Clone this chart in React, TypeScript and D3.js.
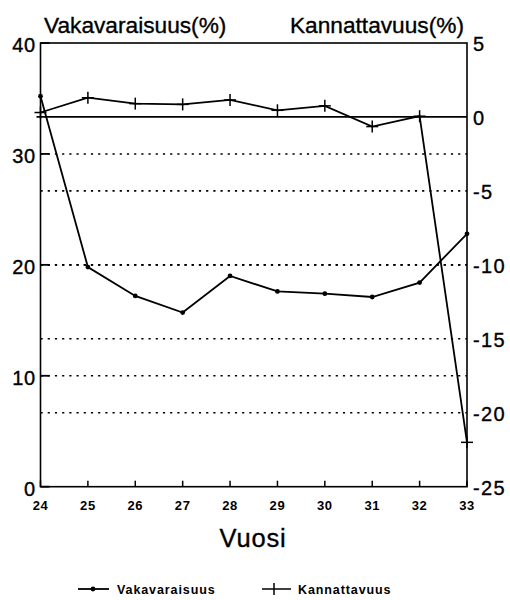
import React from "react";
import * as d3 from "d3";

// Years on the x axis
const years = [24, 25, 26, 27, 28, 29, 30, 31, 32, 33];
// Solvency ratio (%), left axis
const vakavaraisuus = [35.2, 19.8, 17.2, 15.7, 19.0, 17.6, 17.4, 17.1, 18.4, 22.8];
// Profitability (%), right axis
const kannattavuus = [0.3, 1.3, 0.9, 0.85, 1.15, 0.45, 0.75, -0.65, 0.05, -22.0];

const leftTicks = [0, 10, 20, 30, 40];
const rightTicks = [5, 0, -5, -10, -15, -20, -25];

const W = 510;
const H = 600;
const left = 40.5;
const right = 467;
const top = 43;
const bottom = 486.7;

const FONT = "'Liberation Sans', Arial, sans-serif";
// a thin outline gives the type a slightly heavier weight
const heavy = { stroke: "#000", strokeWidth: 0.35 };

export default function App() {
  const x = d3.scaleLinear().domain([24, 33]).range([left, right]);
  const yL = d3.scaleLinear().domain([0, 40]).range([bottom, top]);
  const yR = d3.scaleLinear().domain([-25, 5]).range([bottom, top]);

  const lineL = d3
    .line<number>()
    .x((_, i) => x(years[i]))
    .y((d) => yL(d));
  const lineR = d3
    .line<number>()
    .x((_, i) => x(years[i]))
    .y((d) => yR(d));

  const dotted = [
    ...leftTicks.filter((t) => t > 0 && t < 40).map((t) => yL(t)),
    ...rightTicks.filter((t) => t < 0 && t > -25).map((t) => yR(t)),
  ];

  return (
    <svg
      width={W}
      height={H}
      style={{ position: "absolute", left: 0, top: 0, background: "#fff" }}
      fontFamily={FONT}
    >
      {/* dotted gridlines */}
      {dotted.map((y, i) => (
        <line
          key={"g" + i}
          x1={left}
          x2={right}
          y1={y}
          y2={y}
          stroke="#000"
          strokeWidth={1.6}
          strokeDasharray="2.2,5"
        />
      ))}
      {/* zero line of the right axis */}
      <line x1={left - 4} x2={right} y1={yR(0)} y2={yR(0)} stroke="#000" strokeWidth={1.8} />

      {/* frame */}
      <rect
        x={left}
        y={top}
        width={right - left}
        height={bottom - top}
        fill="none"
        stroke="#000"
        strokeWidth={1.6}
      />

      {/* left ticks */}
      {leftTicks.map((t) => (
        <g key={"l" + t}>
          <line x1={left} x2={left + 9} y1={yL(t)} y2={yL(t)} stroke="#000" strokeWidth={1.8} />
          <text
            x={36}
            y={yL(t) + 9}
            textAnchor="end"
            fontSize={20}
            letterSpacing={0.8}
            fill="#000"
            {...heavy}
          >
            {t}
          </text>
        </g>
      ))}

      {/* right tick labels */}
      {rightTicks.map((t) => (
        <text
          key={"r" + t}
          x={473}
          y={yR(t) + 8}
          textAnchor="start"
          fontSize={20}
          letterSpacing={1.3}
          fill="#000"
          {...heavy}
        >
          {t}
        </text>
      ))}

      {/* x ticks and labels */}
      {years.map((yr) => (
        <g key={"x" + yr}>
          <line x1={x(yr)} x2={x(yr)} y1={bottom} y2={bottom - 6} stroke="#000" strokeWidth={1.5} />
          <text
            x={x(yr)}
            y={510}
            textAnchor="middle"
            fontSize={13}
            fontWeight="bold"
            letterSpacing={0.6}
            fill="#000"
          >
            {yr}
          </text>
        </g>
      ))}

      {/* axis titles */}
      <text x={44} y={33} fontSize={22.7} fill="#000" {...heavy}>
        Vakavaraisuus(%)
      </text>
      <text x={464} y={33} fontSize={22.7} textAnchor="end" fill="#000" {...heavy}>
        Kannattavuus(%)
      </text>
      <text
        x={253}
        y={547}
        fontSize={25.5}
        textAnchor="middle"
        letterSpacing={0.8}
        fill="#000"
        {...heavy}
      >
        Vuosi
      </text>

      {/* Kannattavuus series */}
      <path d={lineR(kannattavuus) ?? ""} fill="none" stroke="#000" strokeWidth={1.8} />
      {kannattavuus.map((v, i) => (
        <g key={"k" + i} stroke="#000" strokeWidth={1.5}>
          <line x1={x(years[i]) - 6} x2={x(years[i]) + 6} y1={yR(v)} y2={yR(v)} />
          <line x1={x(years[i])} x2={x(years[i])} y1={yR(v) - 6} y2={yR(v) + 6} />
        </g>
      ))}

      {/* Vakavaraisuus series */}
      <path d={lineL(vakavaraisuus) ?? ""} fill="none" stroke="#000" strokeWidth={1.8} />
      {vakavaraisuus.map((v, i) => (
        <circle key={"v" + i} cx={x(years[i])} cy={yL(v)} r={2.4} fill="#000" />
      ))}

      {/* legend */}
      <line x1={78} x2={109} y1={589} y2={589} stroke="#000" strokeWidth={1.8} />
      <circle cx={93} cy={589} r={2.4} fill="#000" />
      <text x={117} y={594} fontSize={12.5} fontWeight="bold" letterSpacing={0.9} fill="#000">
        Vakavaraisuus
      </text>
      <line x1={262} x2={291} y1={589} y2={589} stroke="#000" strokeWidth={1.5} />
      <line x1={274} x2={274} y1={583} y2={595} stroke="#000" strokeWidth={1.5} />
      <text x={298} y={594} fontSize={12.5} fontWeight="bold" letterSpacing={0.9} fill="#000">
        Kannattavuus
      </text>
    </svg>
  );
}
